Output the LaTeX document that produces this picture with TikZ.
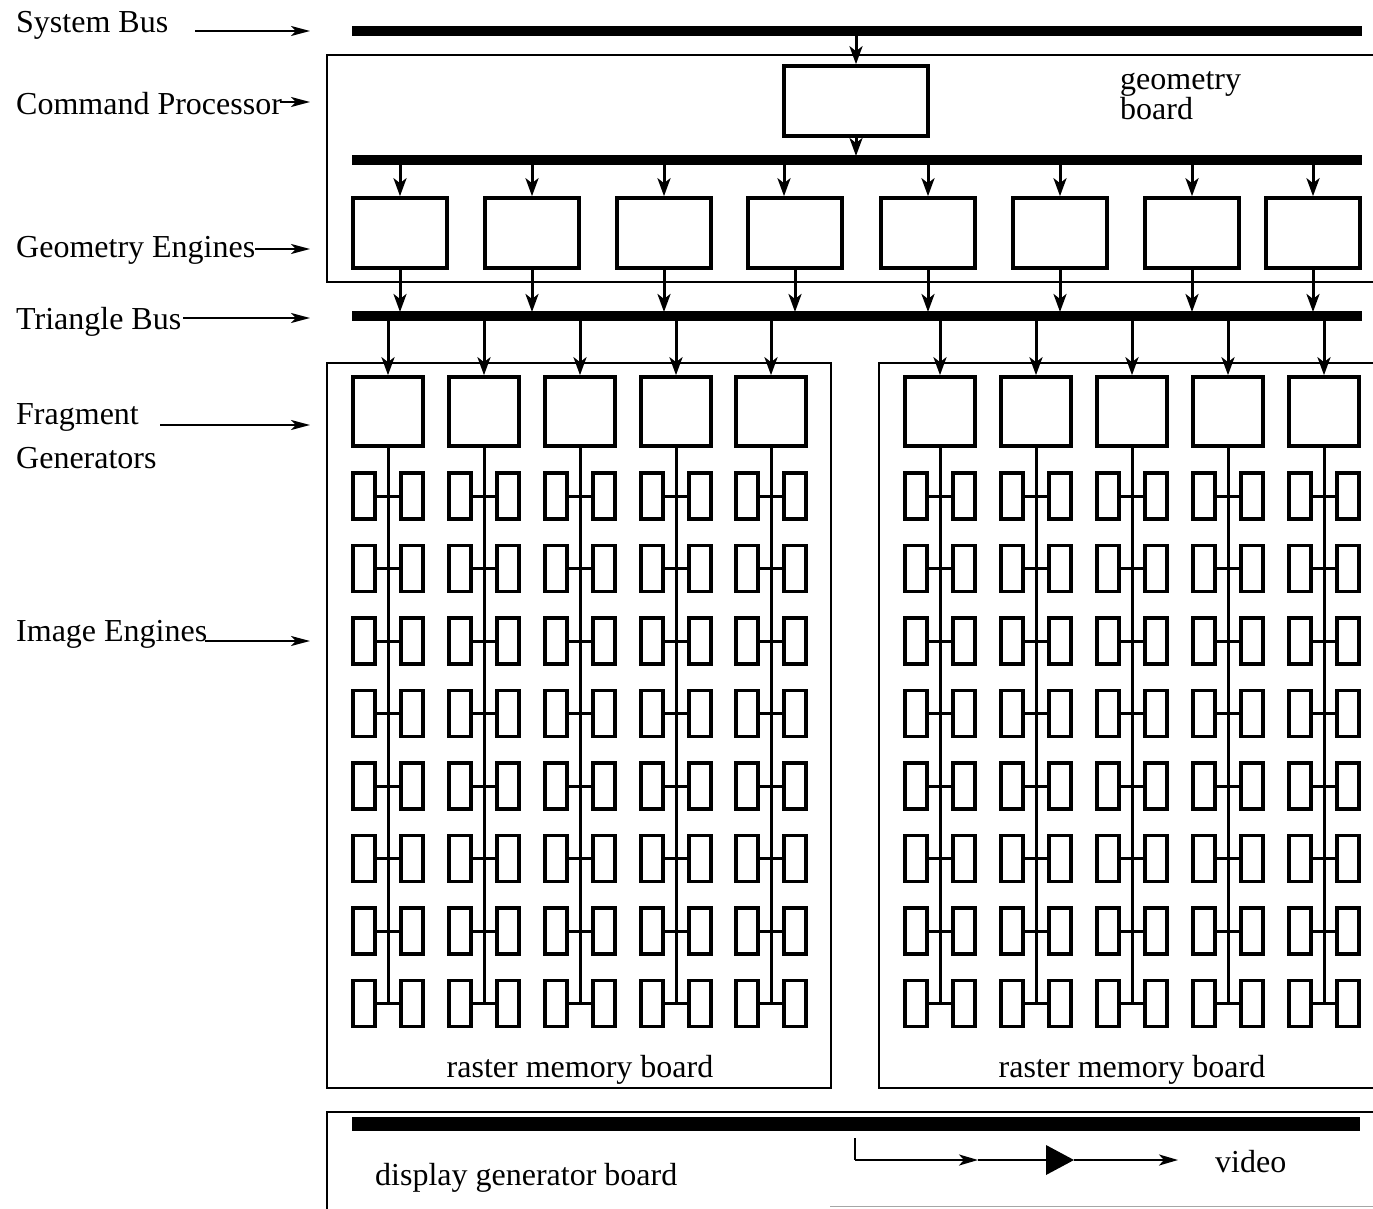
\documentclass[tikz,border=0pt]{standalone}
\usepackage{fontspec}
\setmainfont{Liberation Serif}
\usetikzlibrary{arrows.meta}
\begin{document}
\begin{tikzpicture}[x=1pt,y=-1pt,
  lbl/.style={font=\fontsize{32}{36}\selectfont, inner sep=0pt, anchor=base west},
  clbl/.style={font=\fontsize{32}{36}\selectfont, inner sep=0pt, anchor=base},
  bus/.style={line width=9.5pt},
  board/.style={line width=2.5pt},
  blk/.style={draw, line width=3.6pt, inner sep=0pt},
  cpbox/.style={blk, minimum width=144pt, minimum height=70pt},
  gebox/.style={blk, minimum width=94pt, minimum height=70pt},
  fgbox/.style={blk, minimum width=70pt, minimum height=69pt},
  iebox/.style={blk, minimum width=22pt, minimum height=46pt},
  arr/.style={line width=3pt, -{Stealth[length=18pt,width=13pt,inset=5pt]}},
  larr/.style={line width=2.2pt, -{Stealth[length=19pt,width=10pt,inset=5pt]}},
  varr/.style={line width=2.4pt, -{Stealth[length=19pt,width=11pt,inset=5pt]}},
  wire/.style={line width=3pt}]
\useasboundingbox (0,0) rectangle (1373,1209);

% ---- buses
\coordinate (sbL) at (352,31);  \coordinate (sbR) at (1362,31);
\coordinate (sbB) at (352,35);
\coordinate (gbL) at (352,160); \coordinate (gbR) at (1362,160);
\coordinate (gbT) at (352,156); \coordinate (gbB) at (352,164);
\coordinate (tbL) at (352,316); \coordinate (tbR) at (1362,316);
\coordinate (tbT) at (352,312); \coordinate (tbB) at (352,320);
\coordinate (dbL) at (352,1124); \coordinate (dbR) at (1360,1124);
\draw[bus] (sbL) -- (sbR);
\draw[bus] (gbL) -- (gbR);
\draw[bus] (tbL) -- (tbR);
\draw[line width=14pt] (dbL) -- (dbR);

% ---- boards
\draw[board] (1373,55) -- (327,55) -- (327,282) -- (1373,282);
\draw[board] (327,363) rectangle (831,1088);
\draw[board] (1373,363) -- (879,363) -- (879,1088) -- (1373,1088);
\draw[board] (327,1209) -- (327,1112) -- (1373,1112);
\draw[black!35, line width=1pt] (830,1206) -- (1373,1206);

% ---- command processor
\node[cpbox] (cp) at (856,101) {};
\draw[arr] (cp.north |- sbB) -- (cp.north);
\draw[arr] (cp.south) -- (cp.south |- gbT);

% ---- geometry engines
\foreach \i/\x/\xin in {1/400/400, 2/532/532, 3/664/664, 4/795/784,
                        5/928/928, 6/1060/1060, 7/1192/1192, 8/1313/1313} {
  \node[gebox] (ge\i) at (\x,233) {};
  \coordinate (gin\i) at (\xin,164);
  \draw[arr] (gin\i) -- (gin\i |- ge\i.north);
  \draw[arr] (ge\i.south) -- (ge\i.south |- tbT);
}

% ---- fragment generators and image engines
\foreach \c/\x in {1/388, 2/484, 3/580, 4/676, 5/771,
                   6/940, 7/1036, 8/1132, 9/1228, 10/1324} {
  \node[fgbox] (fg\c) at (\x,411.5) {};
  \draw[arr] (fg\c.north |- tbB) -- (fg\c.north);
  \foreach \r in {0,...,7} {
    \pgfmathsetmacro{\yy}{496+72.5*\r}
    \node[iebox] (ieL\c-\r) at (\x-24,\yy) {};
    \node[iebox] (ieR\c-\r) at (\x+24,\yy) {};
    \draw[wire] (ieL\c-\r.east) -- (ieR\c-\r.west);
  }
  \draw[wire] (fg\c.south) -- (fg\c.south |- ieL\c-7.east);
}

% ---- left labels
\node[lbl] (tsb) at (16,33) {System Bus};
\coordinate (asb0) at (195,31); \coordinate (asb1) at (310,31);
\draw[larr] (asb0) -- (asb1);
\node[lbl] (tcp) at (16,115) {Command Processor};
\coordinate (acp0) at (280,102); \coordinate (acp1) at (310,102);
\draw[larr] (acp0) -- (acp1);
\node[lbl] (tge) at (16,258) {Geometry Engines};
\coordinate (age0) at (255,249); \coordinate (age1) at (310,249);
\draw[larr] (age0) -- (age1);
\node[lbl] (ttb) at (16,329) {Triangle Bus};
\coordinate (atb0) at (183,318); \coordinate (atb1) at (310,318);
\draw[larr] (atb0) -- (atb1);
\node[lbl] (tfg1) at (16,424) {Fragment};
\node[lbl] (tfg2) at (16,468) {Generators};
\coordinate (afg0) at (160,425); \coordinate (afg1) at (310,425);
\draw[larr] (afg0) -- (afg1);
\node[lbl] (tie) at (16,641) {Image Engines};
\coordinate (aie0) at (205,641); \coordinate (aie1) at (310,641);
\draw[larr] (aie0) -- (aie1);

% ---- board labels
\node[lbl] (tgb1) at (1120,90) {geometry};
\node[lbl] (tgb2) at (1120,120) {board};
\node[clbl] (trm1) at (580,1077) {raster memory board};
\node[clbl] (trm2) at (1132,1077) {raster memory board};
\node[lbl] (tdg) at (375,1185) {display generator board};
\node[lbl] (tvid) at (1215,1172) {video};

% ---- video path
\coordinate (v0) at (855,1138);
\coordinate (v1) at (855,1160);
\coordinate (v2) at (978,1160);
\coordinate (ampIn) at (1046,1160);
\coordinate (ampOut) at (1074,1160);
\coordinate (v3) at (1178,1160);
\draw[line width=2.4pt] (v0) -- (v1);
\draw[varr] (v1) -- (v2);
\draw[line width=2.4pt] (v2) -- (ampIn);
\fill (1046,1145) -- (ampOut) -- (1046,1175) -- cycle;
\draw[varr] (ampOut) -- (v3);
\end{tikzpicture}
\end{document}
